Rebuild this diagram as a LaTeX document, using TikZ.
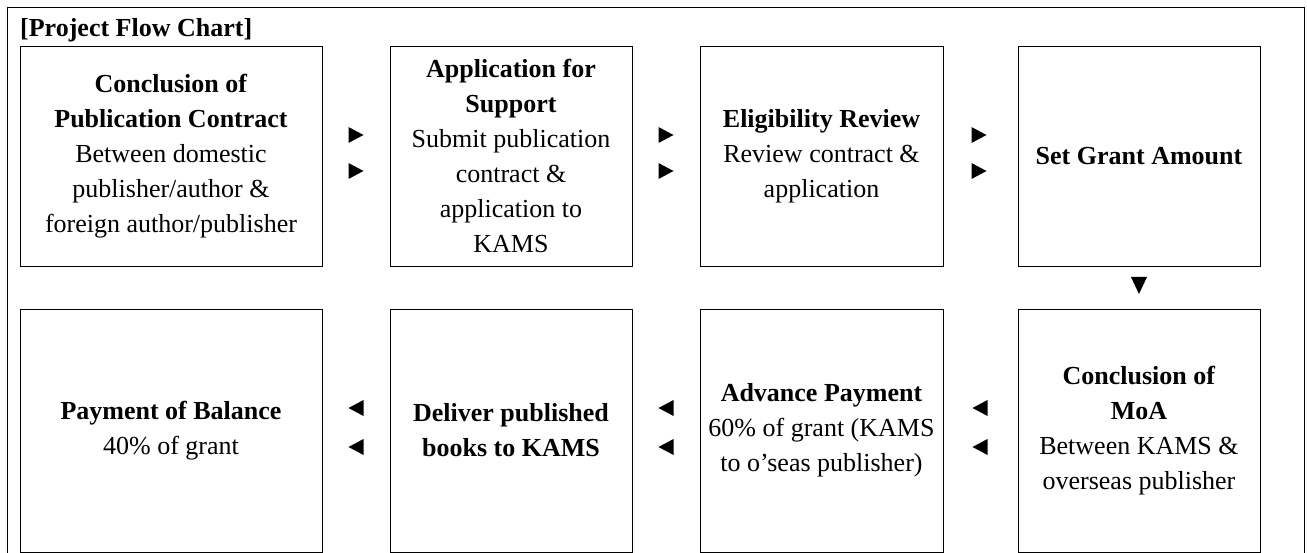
\documentclass[tikz,border=0pt]{standalone}
\usepackage{fontspec}
\setmainfont{Liberation Serif}
\tikzset{
  box/.style={draw, line width=0.9pt, inner sep=0pt, align=center,
    font=\fontsize{26}{35}\selectfont},
  toprow/.style={minimum height=220pt},
  botrow/.style={minimum height=243pt},
  rtri/.pic={\fill (-7.5,-8) -- (7.5,0) -- (-7.5,8) -- cycle;},
  ltri/.pic={\fill (7.5,-8) -- (-7.5,0) -- (7.5,8) -- cycle;},
  dtri/.pic={\fill (-8,-8.5) -- (8,-8.5) -- (0,8.5) -- cycle;}
}
\begin{document}
\begin{tikzpicture}[x=1pt,y=-1pt]
\useasboundingbox (0,0) rectangle (1307,553);
\draw[line width=0.9pt] (7,553) -- (7,7) -- (1304,7) -- (1304,553);
\node[anchor=base west, inner sep=0pt, font=\fontsize{26}{35}\selectfont\bfseries] (title) at (20,37) {[Project Flow Chart]};
% top row
\node[box, toprow, minimum width=302pt] (b1) at (171,156) {\textbf{Conclusion of}\\\textbf{Publication Contract}\\Between domestic\\publisher/author \&\\foreign author/publisher};
\node[box, toprow, minimum width=242pt] (b2) at (511,156) {\textbf{Application for}\\\textbf{Support}\\Submit publication\\contract \&\\application to\\KAMS};
\node[box, toprow, minimum width=243pt] (b3) at (821.5,156) {\textbf{Eligibility Review}\\Review contract \&\\application};
\node[box, toprow, minimum width=242pt] (b4) at (1139,156) {\textbf{Set Grant Amount}};
% bottom row
\node[box, botrow, minimum width=302pt] (b5) at (171,430.5) {\textbf{Payment of Balance}\\40\% of grant};
\node[box, botrow, minimum width=242pt] (b6) at (511,430.5) {\textbf{Deliver published}\\\textbf{books to KAMS}};
\node[box, botrow, minimum width=243pt] (b7) at (821.5,430.5) {\textbf{Advance Payment}\\60\% of grant (KAMS\\to o’seas publisher)};
\node[box, botrow, minimum width=242pt] (b8) at (1139,430.5) {\textbf{Conclusion of}\\\textbf{MoA}\\Between KAMS \&\\overseas publisher};
% arrows
\pic at (356,135) {rtri}; \pic at (356,171) {rtri};
\pic at (666,135) {rtri}; \pic at (666,171) {rtri};
\pic at (979,135) {rtri}; \pic at (979,171) {rtri};
\pic at (1139,285.5) {dtri};
\pic at (980,408) {ltri}; \pic at (980,447) {ltri};
\pic at (666,408) {ltri}; \pic at (666,447) {ltri};
\pic at (356,408) {ltri}; \pic at (356,447) {ltri};
\end{tikzpicture}
\end{document}
